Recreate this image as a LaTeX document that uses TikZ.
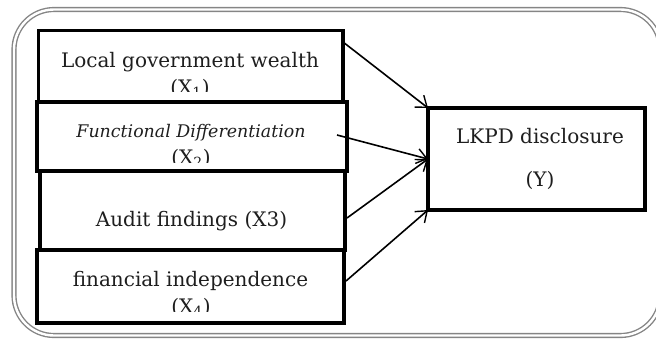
\documentclass[tikz,border=0pt]{standalone}
\usepackage{fontspec}
\setmainfont{DejaVu Serif}
\usetikzlibrary{arrows.meta}
\definecolor{framegray}{HTML}{858585}
\definecolor{txt}{HTML}{1E1E1E}
\tikzset{
  varbox/.style={draw=black, line width=3.6pt, rectangle, inner sep=0pt, outer sep=0pt, fill=none},
  lbl/.style={anchor=base, inner sep=0pt, text=txt, font=\fontsize{20}{24}\selectfont},
  itlbl/.style={anchor=base, inner sep=0pt, text=txt, font=\fontsize{17.4}{21}\selectfont\itshape},
  link/.style={draw=black, line width=1.6pt, -{Straight Barb[length=10pt,width=15pt,line width=1.4pt]}},
  frame/.style={draw=framegray, line width=1.4pt, double=white, double distance=2.4pt, rounded corners=40pt}
}
\begin{document}
\begin{tikzpicture}[x=1pt,y=-1pt]
\useasboundingbox (0,0) rectangle (656,338);
% outer double frame
\draw[frame] (14,9.5) rectangle (660.5,335.5);
% boxes
\node[varbox, minimum width=304.5pt, minimum height=71.5pt] (b1) at (190.75,66.25) {};
\node[varbox, minimum width=310pt, minimum height=69pt] (b2) at (192,136.5) {};
\node[varbox, minimum width=305pt, minimum height=79pt] (b3) at (192.5,210.5) {};
\node[varbox, minimum width=307pt, minimum height=73pt] (b4) at (190.5,286.5) {};
\node[varbox, minimum width=217pt, minimum height=102pt] (y) at (536.5,159) {};
% texts
\begin{scope}
\clip (40,34) rectangle (341,91.5);
\node[lbl] (t1a) at (190,67) {Local government wealth};
\node[lbl] (t1b) at (190,94) {(X\textsubscript{1})};
\end{scope}
\begin{scope}
\clip (40,104) rectangle (345,162);
\node[itlbl] (t2a) at (191,137) {Functional Differentiation};
\node[lbl] (t2b) at (191,164) {(X\textsubscript{2})};
\end{scope}
\node[lbl] (t3) at (191.5,226) {Audit findings (X3)};
\begin{scope}
\clip (40,252) rectangle (342,311);
\node[lbl] (t4a) at (190.5,286) {financial independence};
\node[lbl] (t4b) at (191,313) {(X\textsubscript{4})};
\end{scope}
\node[lbl] (ty1) at (540,143) {LKPD disclosure};
\node[lbl] (ty2) at (540,186) {(Y)};
% arrow start points
\coordinate (s1) at (343,42);
\coordinate (s2) at (337,135);
\coordinate (s3) at (347,218);
\coordinate (s4) at (346,281);
\draw[link] (s1) -- (y.north west);
\draw[link] (s2) -- (y.west);
\draw[link] (s3) -- (y.west);
\draw[link] (s4) -- (y.south west);
\end{tikzpicture}
\end{document}
